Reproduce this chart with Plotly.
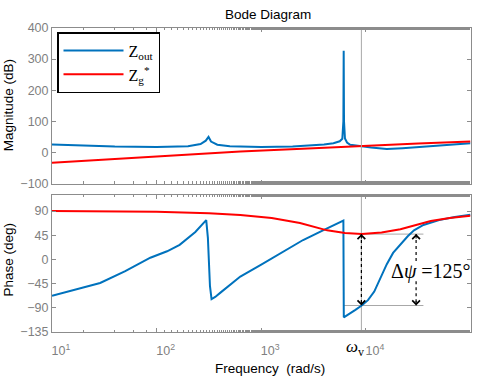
import numpy as np
import plotly.graph_objects as go

# ---------------- data ----------------
# frequencies given as log10(rad/s)
zout_mag_logw = [1.0, 1.3, 1.6, 2.0, 2.3, 2.42, 2.47, 2.496, 2.52, 2.58, 2.7, 2.8, 3.0, 3.3, 3.44,
                 3.6, 3.69, 3.75, 3.775, 3.785, 3.788, 3.791, 3.80, 3.82, 3.85, 3.9, 3.96, 4.05,
                 4.2, 4.35, 4.6, 4.8, 5.0]
zout_mag_db = [26, 22, 19, 17.5, 20, 27, 38, 50, 35, 25, 20, 19, 18, 19, 22,
               26, 30, 36, 44, 100, 327, 100, 45, 32, 25, 22, 20, 16,
               11, 14, 20, 25, 30]

zg_mag_logw = [1.0, 2.0, 2.8, 3.5, 3.96, 4.5, 5.0]
zg_mag_db = [-33, -13, 3.5, 14, 21.5, 29, 35]

zout_ph_logw = [1.0, 1.2, 1.46, 1.7, 1.94, 2.1, 2.22, 2.37, 2.45, 2.474, 2.49, 2.50, 2.51,
                2.525, 2.56, 2.61, 2.7, 2.8, 3.0, 3.2, 3.4, 3.6, 3.7, 3.785, 3.789,
                3.85, 3.9, 3.96, 4.02, 4.08, 4.14, 4.2, 4.26, 4.33, 4.4, 4.46, 4.55,
                4.7, 4.85, 5.0]
zout_ph_deg = [-68, -58, -44, -22, 3, 15, 27, 51, 69, 73, 40, 0, -50,
               -74, -70, -62, -47, -32, -10, 13, 36, 55, 64, 72, -108,
               -101, -94, -86, -76, -60, -35, -9, 12, 28, 43, 54, 64,
               73, 79, 83]

zg_ph_logw = [1.0, 1.5, 2.0, 2.5, 2.8, 3.1, 3.37, 3.63, 3.8, 3.96, 4.15, 4.33, 4.5,
              4.62, 4.8, 5.0]
zg_ph_deg = [89.8, 89.5, 88.5, 86, 82.5, 77, 67.5, 54, 49, 47, 50, 56, 65,
             71.5, 77, 81]

# annotation values
w_v_log = 3.957          # omega_v
w_arrow_log = 4.48       # right-hand arrow position
w_lines_end_log = 4.55   # end of horizontal helper lines
w_drop_log = 3.788       # start of lower helper line
ph_top = 47              # phase of Zg* at omega_v
ph_bot = -86             # phase of Zout at omega_v
ph_gap_top = -6
ph_gap_bot = -41
delta_label = "Δ<i>ψ</i> =125°"

mag_range = [-100, 400]
mag_ticks = [-100, 0, 100, 200, 300, 400]
ph_range = [-135.4, 120]
ph_ticks = [-135, -90, -45, 0, 45, 90]
x_tickvals = [10, 100, 1000, 10000, 100000]
x_ticktext = ["10<sup>1</sup>", "10<sup>2</sup>", "10<sup>3</sup>", "10<sup>4</sup>", "10<sup>5</sup>"]

BLUE = "#0072BD"
RED = "#FF0000"
AX = "#8c8c8c"
TICKFONT = "#7f7f7f"

def w(logs):
    return [10 ** v for v in logs]

fig = go.Figure()

# magnitude
fig.add_trace(go.Scatter(x=w(zout_mag_logw), y=zout_mag_db, mode="lines", name="Z<sub>out</sub>",
                         line=dict(color=BLUE, width=2), xaxis="x", yaxis="y"))
fig.add_trace(go.Scatter(x=w(zg_mag_logw), y=zg_mag_db, mode="lines", name="Z<sub>g</sub><sup>*</sup>",
                         line=dict(color=RED, width=2), xaxis="x", yaxis="y"))

# helper lines (gray)
gray = dict(color="#a8a8a8", width=1)
fig.add_trace(go.Scatter(x=w([w_v_log, w_v_log]), y=mag_range, mode="lines", line=gray,
                         showlegend=False, xaxis="x", yaxis="y"))
fig.add_trace(go.Scatter(x=w([w_v_log, w_v_log]), y=ph_range, mode="lines", line=gray,
                         showlegend=False, xaxis="x2", yaxis="y2"))
fig.add_trace(go.Scatter(x=w([w_v_log, w_lines_end_log]), y=[ph_top, ph_top], mode="lines", line=gray,
                         showlegend=False, xaxis="x2", yaxis="y2"))
fig.add_trace(go.Scatter(x=w([w_drop_log, w_lines_end_log]), y=[ph_bot, ph_bot], mode="lines", line=gray,
                         showlegend=False, xaxis="x2", yaxis="y2"))

# phase
fig.add_trace(go.Scatter(x=w(zout_ph_logw), y=zout_ph_deg, mode="lines", line=dict(color=BLUE, width=2),
                         showlegend=False, xaxis="x2", yaxis="y2"))
fig.add_trace(go.Scatter(x=w(zg_ph_logw), y=zg_ph_deg, mode="lines", line=dict(color=RED, width=2),
                         showlegend=False, xaxis="x2", yaxis="y2"))

# dotted arrows
dot = dict(color="black", width=1.2, dash="dot")
fig.add_trace(go.Scatter(x=w([w_v_log, w_v_log]), y=[ph_top, ph_bot], mode="lines", line=dot,
                         showlegend=False, xaxis="x2", yaxis="y2"))
fig.add_trace(go.Scatter(x=w([w_arrow_log, w_arrow_log]), y=[ph_top, ph_gap_top], mode="lines", line=dot,
                         showlegend=False, xaxis="x2", yaxis="y2"))
fig.add_trace(go.Scatter(x=w([w_arrow_log, w_arrow_log]), y=[ph_gap_bot, ph_bot], mode="lines", line=dot,
                         showlegend=False, xaxis="x2", yaxis="y2"))

annotations = []
for xl in (w_v_log, w_arrow_log):
    annotations.append(dict(x=xl, y=ph_top, xref="x2", yref="y2", text="", showarrow=True,
                            ax=0, ay=6, arrowhead=4, arrowsize=1.5, arrowwidth=1, arrowcolor="black",
                            standoff=0))
    annotations.append(dict(x=xl, y=ph_bot, xref="x2", yref="y2", text="", showarrow=True,
                            ax=0, ay=-6, arrowhead=4, arrowsize=1.5, arrowwidth=1, arrowcolor="black",
                            standoff=0))

annotations.append(dict(x=w_arrow_log + 0.14, y=(ph_gap_top + ph_gap_bot) / 2, xref="x2", yref="y2",
                        text=delta_label, showarrow=False, xanchor="center", yanchor="middle",
                        font=dict(family="Liberation Serif, Times New Roman, serif", size=20, color="black")))
annotations.append(dict(x=355 / 484, y=1 - 354 / 385, xref="paper", yref="paper",
                        text="<i>ω</i><sub>v</sub>", showarrow=False, xanchor="center", yanchor="middle",
                        font=dict(family="Liberation Serif, Times New Roman, serif", size=17, color="black")))
# titles
annotations.append(dict(x=268 / 484, y=1 - 8 / 385, xref="paper", yref="paper", text="Bode Diagram",
                        showarrow=False, xanchor="center", yanchor="middle",
                        font=dict(size=13.5, color="black")))
annotations.append(dict(x=270 / 484, y=1 - 375 / 385, xref="paper", yref="paper", text="Frequency  (rad/s)",
                        showarrow=False, xanchor="center", yanchor="middle",
                        font=dict(size=13.5, color="black")))
annotations.append(dict(x=8 / 484, y=1 - 102 / 385, xref="paper", yref="paper", text="Magnitude (dB)",
                        showarrow=False, textangle=-90, xanchor="center", yanchor="middle",
                        font=dict(size=13.5, color="black")))
annotations.append(dict(x=8 / 484, y=1 - 262 / 385, xref="paper", yref="paper", text="Phase (deg)",
                        showarrow=False, textangle=-90, xanchor="center", yanchor="middle",
                        font=dict(size=13.5, color="black")))

xcommon = dict(type="log", range=[1, 5], showgrid=False, zeroline=False, showline=True, linecolor=AX,
               linewidth=1, mirror="ticks", ticks="inside", ticklen=4, tickcolor=AX,
               tickvals=x_tickvals, ticktext=x_ticktext,
               minor=dict(ticks="inside", ticklen=2.5, tickcolor=AX, showgrid=False),
               tickfont=dict(color=TICKFONT, size=12.5))
ycommon = dict(showgrid=False, zeroline=False, showline=True, linecolor=AX, linewidth=1, mirror="ticks",
               ticks="inside", ticklen=4, tickcolor=AX, tickfont=dict(color=TICKFONT, size=12.5),
               ticklabeloverflow="allow")

xd = [52 / 484, 470.5 / 484]
fig.update_layout(
    width=484, height=385, autosize=False,
    margin=dict(l=0, r=0, t=0, b=0),
    paper_bgcolor="white", plot_bgcolor="white",
    font=dict(family="Liberation Sans, Arial, sans-serif"),
    xaxis=dict(xcommon, domain=xd, anchor="y", showticklabels=False),
    yaxis=dict(ycommon, domain=[1 - 183.3 / 385, 1 - 21.7 / 385], range=mag_range, tickvals=mag_ticks,
               anchor="x"),
    xaxis2=dict(xcommon, domain=xd, anchor="y2", matches="x", showticklabels=True,
                ticklabelshift=9, ticklabelstandoff=7),
    yaxis2=dict(ycommon, domain=[1 - 337.3 / 385, 1 - 195 / 385], range=ph_range, tickvals=ph_ticks,
                anchor="x2"),
    legend=dict(x=57 / 484, y=1 - 26 / 385, xanchor="left", yanchor="top", bgcolor="white",
                bordercolor="black", borderwidth=1.5, itemwidth=60,
                font=dict(family="Liberation Serif, Times New Roman, serif", size=16, color="black")),
    annotations=annotations,
    hovermode=False,
)

fig.write_html(
    "out.html", config={"displayModeBar": False},
    post_script=("var s=document.documentElement.style;s.margin='0';s.padding='0';s.overflow='hidden';"
                 "var b=document.body.style;b.margin='0';b.padding='0';b.overflow='hidden';"),
)
